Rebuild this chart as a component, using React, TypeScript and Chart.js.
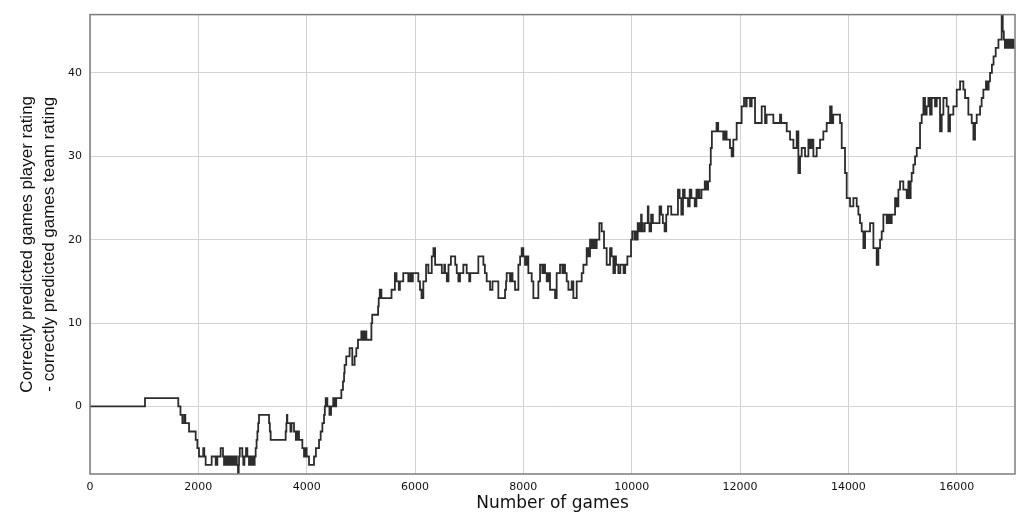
import { useEffect, useRef } from "react";
import { Chart, registerables } from "chart.js";

Chart.register(...registerables);

// Number of games at which the cumulative difference changes
const gamesPlayed = [
  0, 1015, 1630, 1670, 1705, 1740, 1760, 1828, 1951, 1982, 2012, 2090, 2110, 2135, 2246, 2320, 2351, 2412, 2455, 2474,
  2500, 2520, 2540, 2560, 2590, 2610, 2640, 2660, 2689, 2710, 2732, 2745, 2751, 2765, 2812, 2830, 2850, 2880, 2905, 2935,
  2960, 2980, 3000, 3020, 3040, 3058, 3075, 3090, 3105, 3120, 3305, 3320, 3335, 3612, 3625, 3635, 3643, 3700, 3720, 3766,
  3800, 3830, 3858, 3920, 3951, 3980, 4000, 4043, 4135, 4170, 4228, 4258, 4290, 4320, 4335, 4351, 4382, 4420, 4450, 4490,
  4520, 4545, 4640, 4670, 4690, 4700, 4730, 4792, 4842, 4885, 4916, 4947, 5009, 5040, 5071, 5102, 5195, 5210, 5318, 5330,
  5349, 5380, 5566, 5628, 5659, 5700, 5721, 5783, 5876, 5910, 5938, 5960, 6061, 6092, 6120, 6154, 6204, 6247, 6309, 6340,
  6371, 6495, 6540, 6554, 6587, 6618, 6662, 6742, 6770, 6800, 6831, 6892, 6954, 7000, 7020, 7169, 7262, 7290, 7323, 7385,
  7430, 7538, 7662, 7680, 7692, 7754, 7780, 7800, 7846, 7908, 7940, 7969, 8000, 8031, 8060, 8092, 8154, 8185, 8277, 8308,
  8350, 8370, 8400, 8431, 8460, 8492, 8585, 8615, 8677, 8720, 8740, 8769, 8800, 8831, 8892, 8923, 8985, 9077, 9108, 9169,
  9200, 9231, 9260, 9290, 9323, 9354, 9403, 9446, 9489, 9538, 9600, 9630, 9662, 9692, 9710, 9754, 9790, 9850, 9880, 9920,
  9988, 10010, 10050, 10070, 10090, 10111, 10142, 10173, 10185, 10204, 10240, 10297, 10310, 10328, 10359, 10390, 10514, 10545, 10575, 10607,
  10638, 10669, 10730, 10854, 10885, 10916, 10947, 10978, 11040, 11071, 11102, 11164, 11195, 11210, 11226, 11250, 11288, 11349, 11380, 11411,
  11442, 11460, 11480, 11566, 11597, 11690, 11721, 11752, 11814, 11845, 11876, 11938, 12030, 12074, 12110, 12123, 12185, 12215, 12277, 12400,
  12462, 12490, 12615, 12738, 12760, 12862, 12923, 12985, 13046, 13077, 13108, 13138, 13200, 13262, 13292, 13320, 13354, 13415, 13477, 13538,
  13600, 13662, 13692, 13720, 13846, 13877, 13938, 13969, 14031, 14092, 14154, 14185, 14215, 14246, 14277, 14308, 14400, 14462, 14523, 14554,
  14585, 14615, 14646, 14708, 14740, 14769, 14800, 14862, 14892, 14923, 14954, 15015, 15077, 15108, 15130, 15150, 15169, 15200, 15231, 15262,
  15323, 15354, 15385, 15415, 15445, 15477, 15508, 15538, 15600, 15631, 15692, 15723, 15754, 15815, 15846, 15877, 15938, 16000, 16062, 16123,
  16154, 16215, 16277, 16308, 16338, 16369, 16431, 16460, 16492, 16540, 16570, 16590, 16615, 16650, 16680, 16720, 16770, 16830, 16850, 16870,
  16890, 16920, 16940, 16970, 16990, 17020, 17050, 17076,
];

// Correctly predicted games (player rating) - correctly predicted games (team rating)
const ratingDifference = [
  0, 1, 0, -1, -2, -1, -2, -3, -4, -5, -6, -5, -6, -7, -6, -7, -6, -5, -6, -7,
  -6, -7, -6, -7, -6, -7, -6, -7, -6, -7, -8, -7, -6, -5, -6, -7, -6, -5, -6, -7,
  -6, -7, -6, -7, -6, -5, -4, -3, -2, -1, -2, -3, -4, -3, -2, -1, -2, -3, -2, -3,
  -4, -3, -4, -5, -6, -5, -6, -7, -6, -5, -4, -3, -2, -1, 0, 1, 0, -1, 0, 1,
  0, 1, 2, 3, 4, 5, 6, 7, 5, 6, 7, 8, 9, 8, 9, 8, 10, 11, 12, 13,
  14, 13, 14, 16, 15, 14, 15, 16, 15, 16, 15, 16, 15, 14, 13, 15, 17, 16, 18, 19,
  17, 16, 17, 16, 15, 17, 18, 17, 16, 15, 16, 17, 16, 15, 16, 18, 17, 16, 15, 14,
  15, 13, 14, 15, 16, 15, 16, 15, 14, 17, 18, 19, 18, 17, 18, 16, 15, 13, 15, 17,
  16, 17, 16, 15, 16, 14, 13, 16, 17, 16, 17, 16, 15, 14, 15, 13, 15, 16, 17, 19,
  18, 20, 19, 20, 19, 20, 22, 21, 19, 17, 19, 18, 16, 18, 17, 16, 17, 16, 17, 18,
  20, 21, 20, 21, 20, 22, 21, 23, 22, 21, 22, 24, 22, 21, 23, 22, 24, 23, 22, 21,
  23, 24, 23, 26, 25, 23, 26, 25, 24, 26, 25, 24, 26, 25, 26, 25, 26, 27, 26, 27,
  29, 31, 33, 34, 33, 32, 33, 32, 31, 30, 32, 34, 36, 37, 36, 37, 36, 37, 34, 36,
  34, 35, 34, 35, 34, 33, 32, 31, 33, 28, 30, 31, 30, 32, 31, 32, 30, 31, 32, 33,
  34, 36, 34, 35, 34, 31, 28, 25, 24, 25, 24, 23, 22, 21, 19, 21, 22, 19, 17, 19,
  20, 21, 23, 22, 23, 22, 23, 25, 24, 26, 27, 26, 25, 27, 25, 27, 28, 29, 30, 31,
  34, 35, 37, 35, 36, 37, 35, 37, 36, 37, 33, 35, 37, 36, 33, 35, 36, 38, 39, 38,
  37, 35, 34, 32, 34, 35, 36, 37, 38, 39, 38, 39, 40, 41, 42, 43, 44, 47, 45, 44,
  43, 44, 43, 44, 43, 44, 43, 43,
];

const xTickValues = [0, 2000, 4000, 6000, 8000, 10000, 12000, 14000, 16000];
const yTickValues = [0, 10, 20, 30, 40];
const xAxisTitle = "Number of games";
const yAxisTitle = [
  "Correctly predicted games player rating",
  "- correctly predicted games team rating",
];

export default function App() {
  const canvasRef = useRef<HTMLCanvasElement | null>(null);

  useEffect(() => {
    document.body.style.margin = "0";
    const canvas = canvasRef.current;
    if (!canvas) return;

    const framePlugin = {
      id: "frame",
      afterDatasetsDraw(chart: any) {
        const { ctx, chartArea } = chart;
        const { left, top, right, bottom } = chartArea;
        ctx.save();
        ctx.strokeStyle = "#7c7c7c";
        ctx.lineWidth = 1.5;
        ctx.strokeRect(left, top, right - left, bottom - top);
        ctx.restore();
      },
    };

    const chart = new Chart(canvas, {
      type: "line",
      data: {
        datasets: [
          {
            data: gamesPlayed.map((x, i) => ({ x, y: ratingDifference[i] })),
            stepped: "before",
            borderColor: "#2c2c2c",
            borderWidth: 1.8,
            pointRadius: 0,
            fill: false,
          },
        ],
      },
      options: {
        responsive: false,
        animation: false,
        layout: { padding: { top: 13, right: 9, left: 0, bottom: 0 } },
        plugins: {
          legend: { display: false },
          tooltip: { enabled: false },
        },
        scales: {
          x: {
            type: "linear",
            min: 0,
            max: 17076,
            afterBuildTicks: (axis: any) => {
              axis.ticks = xTickValues.map((v) => ({ value: v }));
            },
            afterFit: (scale: any) => {
              scale.height = 46;
            },
            grid: { color: "#d2d2d2", lineWidth: 1, drawTicks: false },
            border: { display: false },
            ticks: {
              padding: 7,
              color: "#111",
              autoSkip: false,
              maxRotation: 0,
              font: { family: "DejaVu Sans", size: 11 },
              callback: (v: any) => String(v),
            },
            title: {
              display: true,
              text: xAxisTitle,
              color: "#111",
              font: { family: "DejaVu Sans", size: 17 },
              padding: { top: 0, bottom: 6 },
            },
          },
          y: {
            type: "linear",
            min: -8.1,
            max: 47,
            afterBuildTicks: (axis: any) => {
              axis.ticks = yTickValues.map((v) => ({ value: v }));
            },
            afterFit: (scale: any) => {
              scale.width = 90;
            },
            grid: { color: "#d2d2d2", lineWidth: 1, drawTicks: false },
            border: { display: false },
            ticks: {
              padding: 8,
              color: "#111",
              font: { family: "DejaVu Sans", size: 11 },
              callback: (v: any) => String(v),
            },
            title: {
              display: true,
              text: yAxisTitle,
              color: "#111",
              font: { family: "Liberation Sans", size: 17, lineHeight: 1.25 },
              padding: { top: 17, bottom: 0 },
            },
          },
        },
      },
      plugins: [framePlugin],
    });

    return () => chart.destroy();
  }, []);

  return (
    <canvas
      ref={canvasRef}
      width={1024}
      height={520}
      style={{ display: "block", width: 1024, height: 520 }}
    />
  );
}
